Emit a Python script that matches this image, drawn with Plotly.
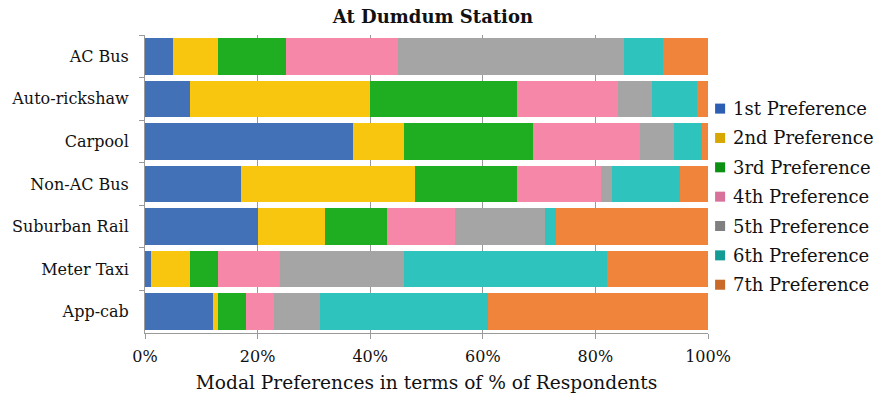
import plotly.graph_objects as go

# Travel modes, top to bottom
modes = ["AC Bus", "Auto-rickshaw", "Carpool", "Non-AC Bus",
         "Suburban Rail", "Meter Taxi", "App-cab"]

# Share of respondents (%) ranking each mode at each preference level
pref_1 = [5, 8, 37, 17, 20, 1, 12]
pref_2 = [8, 32, 9, 31, 12, 7, 1]
pref_3 = [12, 26, 23, 18, 11, 5, 5]
pref_4 = [20, 18, 19, 15, 12, 11, 5]
pref_5 = [40, 6, 6, 2, 16, 22, 8]
pref_6 = [7, 8, 5, 12, 2, 36, 30]
pref_7 = [8, 2, 1, 5, 27, 18, 39]

series_names = ["1st Preference", "2nd Preference", "3rd Preference",
                "4th Preference", "5th Preference", "6th Preference",
                "7th Preference"]
series_values = [pref_1, pref_2, pref_3, pref_4, pref_5, pref_6, pref_7]
colors = ["#4271b7", "#f8c60f", "#1fad22", "#f687a9",
          "#a5a5a5", "#2ec3bc", "#f0843b"]
key_colors = ["#2c5fb3", "#d8a704", "#0b9012", "#d8729b",
              "#808080", "#149b96", "#c96a2b"]

tick_vals = [0, 20, 40, 60, 80, 100]
tick_text = ["0%", "20%", "40%", "60%", "80%", "100%"]

FONT = "DejaVu Serif"

fig = go.Figure()
for name, vals, col in zip(series_names, series_values, colors):
    fig.add_trace(go.Bar(
        y=modes, x=vals, name=name, orientation="h",
        marker=dict(color=col, line=dict(width=0)),
        showlegend=False,
    ))

# Key to the right of the plot: small squares with labels
key_top = 0.753      # paper y of first entry
key_step = 0.0985    # paper spacing between entries
for i, (name, kc) in enumerate(zip(series_names, key_colors)):
    yc = key_top - i * key_step
    fig.add_shape(type="rect", xref="paper", yref="paper",
                  x0=1.0126, x1=1.0304, y0=yc - 0.0168, y1=yc + 0.0168,
                  fillcolor=kc, line=dict(width=0))
    fig.add_annotation(text=name, xref="paper", yref="paper",
                       x=1.0405, y=yc, xanchor="left", yanchor="middle",
                       showarrow=False, font=dict(size=18, family=FONT))

fig.update_layout(
    width=880, height=399,
    barmode="stack", bargap=0.14,
    plot_bgcolor="white", paper_bgcolor="white",
    margin=dict(l=145, r=172, t=35, b=66, autoexpand=False),
    font=dict(family=FONT, color="#111111", size=16),
    title=dict(text="<b>At Dumdum Station</b>", x=0.492, xanchor="center",
               y=0.958, yanchor="middle", font=dict(size=18, family=FONT)),
)
fig.update_xaxes(
    range=[0, 100], tickvals=tick_vals, ticktext=tick_text,
    showgrid=True, gridcolor="#9a9a9a", gridwidth=1,
    showline=True, linecolor="#9a9a9a", linewidth=1,
    ticks="outside", ticklen=5, tickcolor="#9a9a9a",
    zeroline=False, tickfont=dict(size=16), ticklabelstandoff=4,
    title=dict(text="Modal Preferences in terms of % of Respondents",
               font=dict(size=18.6), standoff=10),
)
fig.update_yaxes(
    autorange="reversed", showline=True, linecolor="#9a9a9a", linewidth=1,
    ticks="outside", ticklen=5, tickcolor="#9a9a9a", tickson="boundaries",
    showgrid=False, tickfont=dict(size=16), ticklabelstandoff=12,
)

fig.write_html("out.html")
